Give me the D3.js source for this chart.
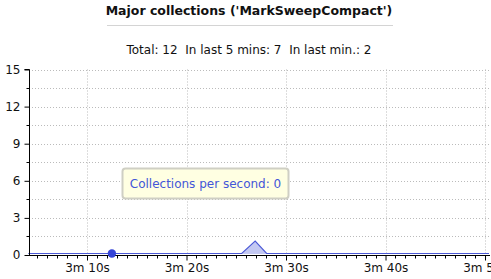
<!DOCTYPE html>
<html><head><meta charset="utf-8">
<script src="https://cdn.jsdelivr.net/npm/d3@7"></script>
<style>
html,body{margin:0;padding:0;background:#fff;overflow:hidden;}
svg{display:block;font-family:"DejaVu Sans",sans-serif;}
text{white-space:pre;}
</style></head>
<body>
<svg id="chart" width="491" height="279"></svg>
<script>
const title = "Major collections ('MarkSweepCompact')";
const subtitle = "Total: 12  In last 5 mins: 7  In last min.: 2";
const tooltipText = "Collections per second: 0";
// time in seconds, collections per second
const times  = [184.1, 192.5, 205.55, 206.9, 208.05, 230.4];
const values = [0,     0,     0,      1,     0,      0];
const hoverTime = 192.5, hoverValue = 0;
const xDomain = [184.17, 230.5];
const yDomain = [0, 15];
const yTicks = [0, 3, 6, 9, 12, 15];
const xMajorTicks = [190, 200, 210, 220, 230];
const fmt = s => Math.floor(s/60) + "m " + (s%60) + "s";

const svg = d3.select("#chart");
const L = 29, R = 490, T = 69.5, B = 255;
const x = d3.scaleLinear().domain(xDomain).range([L, R]);
const y = d3.scaleLinear().domain(yDomain).range([B, T]);

// title
svg.append("text").attr("x", 249).attr("y", 15).attr("text-anchor", "middle")
  .attr("font-size", 12.5).attr("font-weight", "bold").attr("fill", "#111").text(title);
svg.append("line").attr("x1", 107).attr("x2", 393).attr("y1", 25.5).attr("y2", 25.5)
  .attr("stroke", "#d4d4d4");
svg.append("text").attr("x", 249).attr("y", 54).attr("text-anchor", "middle")
  .attr("xml:space", "preserve").style("white-space", "pre")
  .attr("font-size", 12).attr("fill", "#111").text(subtitle);

// grid
const g = svg.append("g");
const yGrid = d3.range(yDomain[0], yDomain[1] + 0.01, 1.5).filter(v => v > 0);
g.selectAll(".hg").data(yGrid).enter().append("line")
  .attr("x1", L).attr("x2", R).attr("y1", d => Math.round(y(d)) + 0.5).attr("y2", d => Math.round(y(d)) + 0.5)
  .attr("stroke", "#bbb").attr("stroke-dasharray", "1,2");
g.selectAll(".vg").data(xMajorTicks).enter().append("line")
  .attr("x1", d => Math.round(x(d)) + 0.5).attr("x2", d => Math.round(x(d)) + 0.5).attr("y1", T).attr("y2", B)
  .attr("stroke", "#bbb").attr("stroke-dasharray", "1,2");

// area + line
const data = times.map((t, i) => ({t, v: values[i]}));
svg.append("path").datum(data)
  .attr("d", d3.area().x(d => x(d.t)).y0(y(0) - 1).y1(d => y(d.v) - 1))
  .attr("fill", "#c3c8f2");
svg.append("path").datum(data)
  .attr("d", d3.line().x(d => x(d.t)).y(d => y(d.v) - 1.5))
  .attr("fill", "none").attr("stroke", "#4a58d6").attr("stroke-width", 1.2);

// axes
const yAxis = d3.axisLeft(y).tickValues(yTicks).tickSize(5).tickPadding(4);
const ya = svg.append("g").attr("transform", `translate(${L + 0.5},0)`).call(yAxis);
const yMinor = d3.range(1.5, 15, 3);
ya.selectAll(".minor").data(yMinor).enter().append("line")
  .attr("x1", -3).attr("x2", 0).attr("y1", d => Math.round(y(d)) + 0.5).attr("y2", d => Math.round(y(d)) + 0.5)
  .attr("stroke", "#000");
const xAxis = d3.axisBottom(x).tickValues(xMajorTicks).tickFormat(fmt).tickSize(5).tickPadding(3);
const xa = svg.append("g").attr("transform", `translate(0,${B + 0.5})`).call(xAxis);
const xMinor = d3.range(185, 231, 1).filter(v => !xMajorTicks.includes(v));
xa.selectAll(".minor").data(xMinor).enter().append("line")
  .attr("x1", d => Math.round(x(d)) + 0.5).attr("x2", d => Math.round(x(d)) + 0.5).attr("y1", 0).attr("y2", 3)
  .attr("stroke", "#000");
[ya, xa].forEach(a => {
  a.selectAll("text").attr("font-size", 12).attr("font-family", "DejaVu Sans").attr("fill", "#111");
  a.select(".domain").attr("stroke", "#000");
});
ya.select(".domain").attr("d", `M-5,${y(15)}H0V${B}`);
xa.select(".domain").attr("d", `M${L},0H${R}`);

// hover dot
svg.append("circle").attr("cx", x(hoverTime)).attr("cy", y(hoverValue) - 1.5).attr("r", 4.2)
  .attr("fill", "#3444d8");

// tooltip
svg.append("rect").attr("x", 122.5).attr("y", 168.5).attr("width", 166).attr("height", 30).attr("rx", 3)
  .attr("fill", "#ffffe2").attr("stroke", "#cfcfc4").attr("stroke-width", 2);
svg.append("text").attr("x", 205.5).attr("y", 188).attr("text-anchor", "middle")
  .attr("font-size", 12).attr("fill", "#4356d8").text(tooltipText);
</script>
</body></html>
